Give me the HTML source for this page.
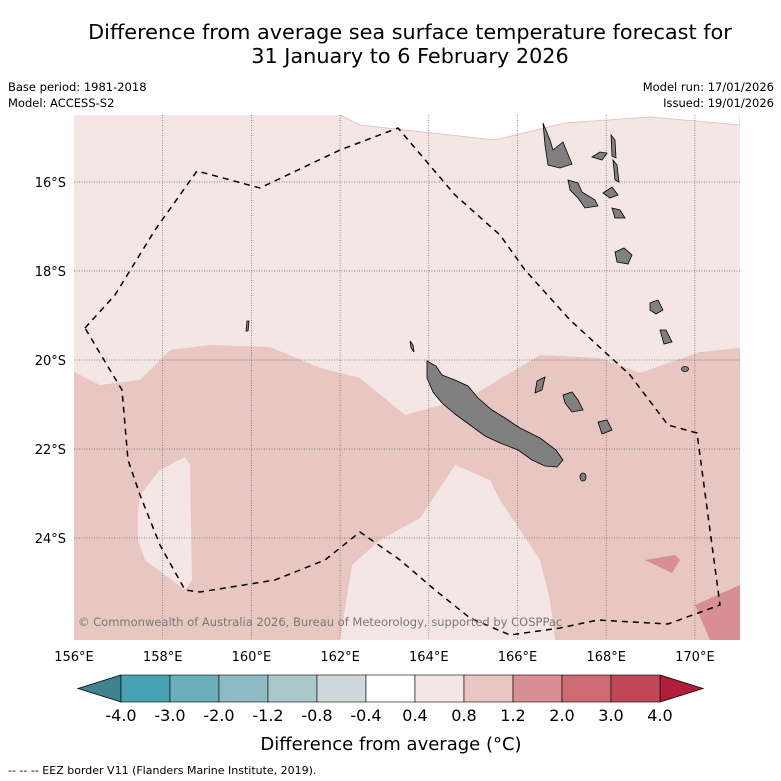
<!DOCTYPE html>
<html><head><meta charset="utf-8"><style>
body{margin:0;background:#fff;font-family:"DejaVu Sans","Liberation Sans",sans-serif}
svg{display:block;font-family:"DejaVu Sans","Liberation Sans",sans-serif}
</style></head><body>
<svg id="fig" width="781" height="781" viewBox="0 0 781 781">
<text x="410" y="39" text-anchor="middle" font-size="20.8">Difference from average sea surface temperature forecast for</text>
<text x="410" y="63" text-anchor="middle" font-size="20.8">31 January to 6 February 2026</text>
<text x="8" y="91" font-size="11.5">Base period: 1981-2018</text>
<text x="8" y="107" font-size="11.5">Model: ACCESS-S2</text>
<text x="774" y="91" font-size="11.5" text-anchor="end">Model run: 17/01/2026</text>
<text x="774" y="107" font-size="11.5" text-anchor="end">Issued: 19/01/2026</text>
<defs><clipPath id="mc"><rect x="74" y="115" width="666" height="525"/></clipPath></defs>
<g clip-path="url(#mc)">
<rect x="74" y="115" width="666" height="525" fill="#f4e6e5"/>
<polygon points="340,110 340,115 360,125 495,140 565,123 650,117 740,125 740,110" fill="#fff" stroke="#e8c6c1"/>
<polygon points="74,372 100,385 140,380 170,350 210,345 270,347 320,368 360,378 405,415 470,397 540,355 600,358 640,373 700,352 740,348 740,640 74,640" fill="#e8c6c1"/>
<polygon points="138,512 140,495 160,470 185,457 190,465 192,580 185,590 145,560 138,540" fill="#f4e6e5"/>
<polygon points="340,640 352,565 380,540 420,518 455,465 490,480 500,500 520,530 540,560 550,600 555,640" fill="#f4e6e5"/>
<polygon points="695,605 740,585 740,640 710,640" fill="#d88f93"/>
<polygon points="645,560 675,555 680,560 672,573" fill="#d88f93"/>
<g id="grid" stroke="#666" stroke-width="0.7" stroke-dasharray="1,1.5"></g>
<g fill="#808080" stroke="#000" stroke-width="0.8">
<polygon points="427,361 436,366 442,375 455,380 468,386 478,398 492,410 505,418 520,428 540,438 556,450 563,460 557,467 545,466 532,460 518,450 500,443 485,436 470,425 455,414 442,403 433,392 427,378"/>
<polygon points="543,123 550,140 553,150 563,142 567,152 572,164 560,168 548,165 545,145"/>
<polygon points="568,180 578,183 582,192 595,200 598,206 585,208 578,198 570,190"/>
<polygon points="592,157 600,152 607,153 602,160"/>
<polygon points="611,135 615,140 616,158 612,156"/>
<polygon points="613,160 617,165 619,182 615,180"/>
<polygon points="603,193 612,187 618,195 610,198"/>
<polygon points="612,208 620,210 625,218 615,218"/>
<polygon points="615,252 624,248 632,255 628,264 617,262"/>
<polygon points="650,303 658,300 663,310 656,314 650,310"/>
<polygon points="660,330 666,330 672,342 664,344"/>
<polygon points="563,395 572,392 578,400 583,410 572,412 565,403"/>
<polygon points="598,422 607,420 612,430 602,434"/>
<polygon points="537,381 545,377 542,390 535,393"/>
<ellipse cx="583" cy="477" rx="3" ry="4"/>
<ellipse cx="685" cy="369" rx="3.5" ry="2.5"/>
<polygon points="247,321 249,321 248,331 246,331"/>
<polygon points="410,341 413,345 414,352 411,348"/>
</g>
<polyline points="85,328 115,295 155,230 197,171 260,188 340,150 398,128 455,195 500,235 525,270 570,320 630,375 668,425 697,433 720,605 668,624 598,620 560,628 510,635 470,618 435,590 400,560 360,532 325,560 275,580 200,592 185,590 160,545 140,495 128,460 122,390 107,365 85,328" fill="none" stroke="#000" stroke-width="1.5" stroke-dasharray="6,5"/>
<text x="78" y="626" font-size="11.5" fill="#777">© Commonwealth of Australia 2026, Bureau of Meteorology, supported by COSPPac</text>
</g>
<g id="axes" font-size="13"></g>
<g id="cbar"></g>
<text x="391" y="750" text-anchor="middle" font-size="18">Difference from average (°C)</text>
<text x="8" y="774" font-size="11">--  --  -- EEZ border V11 (Flanders Marine Institute, 2019).</text>
</svg>
<script>
const lonTicks=[156,158,160,162,164,166,168,170];
const latTicks=[16,18,20,22,24];
const cbarBounds=["-4.0","-3.0","-2.0","-1.2","-0.8","-0.4","0.4","0.8","1.2","2.0","3.0","4.0"];
const cbarColors=["#46a2b2","#6aaeba","#8ebac5","#aac8cc","#cfd8da","#ffffff","#f4e6e5","#e8c6c1","#d88f93","#cd6a72","#c04756"];
const NS="http://www.w3.org/2000/svg";
const xLon=l=>74+(l-156)*44.35;
const yLat=l=>182+(l-16)*44.5;
function mk(t,a,p){const e=document.createElementNS(NS,t);for(const k in a)e.setAttribute(k,a[k]);p.appendChild(e);return e;}
const grid=document.getElementById('grid'),axes=document.getElementById('axes'),cb=document.getElementById('cbar');
lonTicks.forEach(l=>{const x=xLon(l);
 if(l>156){const g=mk('line',{x1:x,x2:x,y1:115,y2:640},grid);
 
 }
 const t=mk('text',{x:x,y:661,'text-anchor':'middle'},axes);t.textContent=l+'°E';
 
 });
latTicks.forEach(l=>{const y=yLat(l);
 const g=mk('line',{x1:74,x2:740,y1:y,y2:y},grid);
 
 
 const t=mk('text',{x:66,y:y+5,'text-anchor':'end'},axes);t.textContent=l+'°S';
 
 });
const x0=121,x1=660,n=cbarColors.length,w=(x1-x0)/n,y0=675,h=27;
const lo=mk('polygon',{points:`${x0},${y0} 78,${y0+h/2} ${x0},${y0+h}`,fill:'#3e8390',stroke:'#000','stroke-width':0.8},cb);


const hi=mk('polygon',{points:`${x1},${y0} 703,${y0+h/2} ${x1},${y0+h}`,fill:'#b01f3a',stroke:'#000','stroke-width':0.8},cb);


cbarColors.forEach((c,i)=>{const r=mk('rect',{x:x0+i*w,y:y0,width:w,height:h,fill:c,stroke:'#000','stroke-width':0.6},cb);
 
 });
cbarBounds.forEach((b,i)=>{const t=mk('text',{x:x0+i*w,y:721,'text-anchor':'middle','font-size':16},cb);t.textContent=b;
 
 });
</script>
</body></html>
